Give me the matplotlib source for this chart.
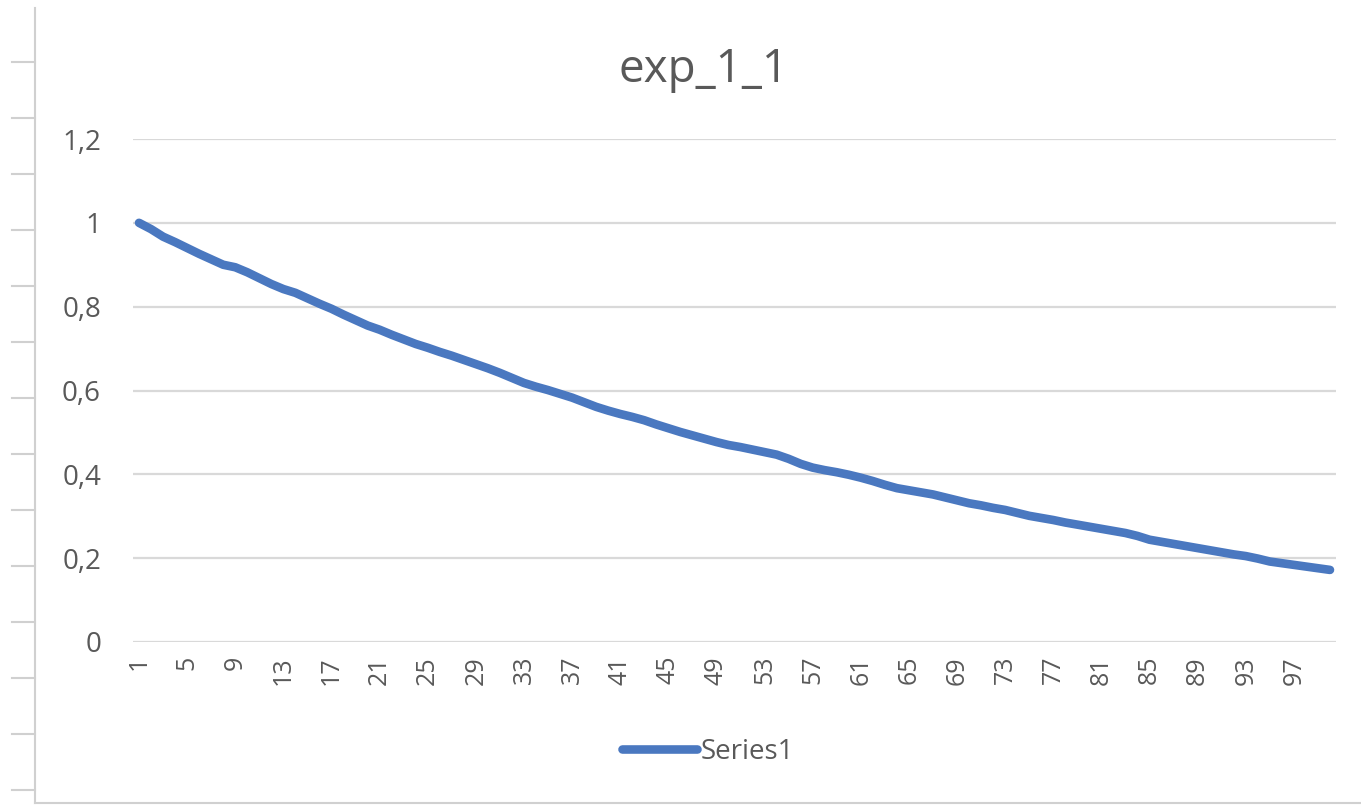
import matplotlib.pyplot as plt
from matplotlib.lines import Line2D

plt.rcParams['font.family'] = ['Open Sans', 'DejaVu Sans']

# data
categories = list(range(1, 101))
series1 = [
    1.000, 0.985, 0.967, 0.954, 0.940, 0.926, 0.913, 0.900, 0.894, 0.882,
    0.868, 0.854, 0.842, 0.833, 0.820, 0.807, 0.795, 0.781, 0.768, 0.755,
    0.745, 0.733, 0.722, 0.711, 0.702, 0.692, 0.683, 0.673, 0.663, 0.653,
    0.642, 0.630, 0.618, 0.609, 0.601, 0.592, 0.583, 0.572, 0.561, 0.552,
    0.544, 0.537, 0.529, 0.519, 0.510, 0.501, 0.493, 0.485, 0.477, 0.470,
    0.465, 0.459, 0.453, 0.447, 0.437, 0.425, 0.416, 0.410, 0.405, 0.399,
    0.392, 0.384, 0.375, 0.367, 0.362, 0.357, 0.352, 0.345, 0.338, 0.331,
    0.326, 0.320, 0.315, 0.308, 0.301, 0.296, 0.291, 0.285, 0.280, 0.275,
    0.270, 0.265, 0.260, 0.253, 0.244, 0.239, 0.234, 0.229, 0.224, 0.219,
    0.214, 0.209, 0.205, 0.199, 0.192, 0.188, 0.184, 0.180, 0.176, 0.172,
]
xtick_labels = [str(c) for c in categories[::4]]
ytick_values = [0, 0.2, 0.4, 0.6, 0.8, 1.0, 1.2]
ytick_labels = ['0', '0,2', '0,4', '0,6', '0,8', '1', '1,2']

W, H = 1361, 807
fig = plt.figure(figsize=(W / 100, H / 100), dpi=100)
ax = fig.add_axes([133 / W, 1 - 642 / H, (1336 - 133) / W, (642 - 139) / H])

text_color = '#595959'
ax.plot(categories, series1, color='#4A78C0', linewidth=6.2,
        solid_capstyle='round', solid_joinstyle='round', label='Series1', zorder=3)

ax.set_xlim(0.5, 100.5)
ax.set_ylim(0, 1.2)
ax.set_yticks(ytick_values)
ax.set_yticklabels(ytick_labels)
ax.set_xticks(categories[::4])
ax.set_xticklabels(xtick_labels, rotation=90)
ax.tick_params(axis='both', length=0, labelsize=18, labelcolor=text_color)
ax.tick_params(axis='y', pad=23, labelsize=20)
ax.tick_params(axis='x', pad=10)
ax.grid(axis='y', color='#D9D9D9', linewidth=1.6)
ax.set_axisbelow(True)
for s in ax.spines.values():
    s.set_visible(False)

fig.text(704 / W, 1 - 70 / H, 'exp_1_1', ha='center', va='center',
         fontsize=33, color=text_color)

leg = fig.legend(loc='center', bbox_to_anchor=(708 / W, 1 - 752 / H), frameon=False,
                 fontsize=20, handlelength=2.7, handletextpad=0.1)
for t in leg.get_texts():
    t.set_color(text_color)

# spreadsheet border visible around the chart
grey = '#D0D0D0'
fig.add_artist(Line2D([35 / W, 35 / W], [1 - 8 / H, 1 - 803 / H], color=grey, lw=1.5))
fig.add_artist(Line2D([35 / W, 1], [1 - 803 / H, 1 - 803 / H], color=grey, lw=1.5))
for yy in range(62, 800, 56):
    fig.add_artist(Line2D([12 / W, 35 / W], [1 - yy / H, 1 - yy / H], color=grey, lw=1.5))

fig.savefig('out.png', dpi=100)
